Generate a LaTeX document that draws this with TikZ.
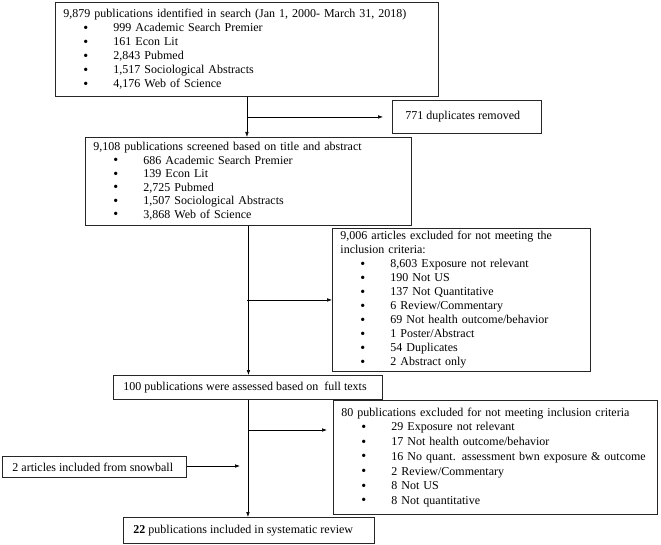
\documentclass[tikz,border=0pt]{standalone}
\usepackage{fontspec}
\setmainfont{Liberation Serif}
\usetikzlibrary{arrows.meta}

\newcommand{\itm}[1]{\hspace*{20pt}\makebox[30pt][l]{\raisebox{-0.5pt}{\fontsize{14}{14}\selectfont\textbullet}}#1}
\newcommand{\oneline}[2]{\makebox[#1][l]{#2}}

\tikzset{
	box/.style={draw=black!85, line width=0.9pt, anchor=north west, inner xsep=8pt, inner ysep=2pt, align=left, font=\fontsize{12}{14}\selectfont},
	link/.style={line width=0.6pt},
	arr/.style={link, -{Latex[length=5pt,width=3.6pt]}}
}

\begin{document}
\begin{tikzpicture}[x=1pt, y=-1pt]
	\useasboundingbox (0,0) rectangle (661,545);

	%boxes
	\node [box, text width=367pt, minimum height=94pt] (search) at (55,2) {
		9,879 publications identified in search (Jan 1, 2000- March 31, 2018)\\
		\itm{999 Academic Search Premier}\\
		\itm{161 Econ Lit}\\
		\itm{2,843 Pubmed}\\
		\itm{1,517 Sociological Abstracts}\\
		\itm{4,176 Web of Science}};
	\node [box, inner xsep=13pt, minimum height=33pt] (dup) at (392,100) {\oneline{123pt}{771 duplicates removed}};
	\node [box, font=\fontsize{12}{13.5}\selectfont, text width=310pt, minimum height=88pt] (screen) at (85,137) {
		9,108 publications screened based on title and abstract\\
		\itm{686 Academic Search Premier}\\
		\itm{139 Econ Lit}\\
		\itm{2,725 Pubmed}\\
		\itm{1,507 Sociological Abstracts}\\
		\itm{3,868 Web of Science}};
	\node [box, text width=242pt, minimum height=143pt] (excla) at (332,228) {
		9,006 articles excluded for not meeting the\\
		inclusion criteria:\\
		\itm{8,603 Exposure not relevant}\\
		\itm{190 Not US}\\
		\itm{137 Not Quantitative}\\
		\itm{6 Review/Commentary}\\
		\itm{69 Not health outcome/behavior}\\
		\itm{1 Poster/Abstract}\\
		\itm{54 Duplicates}\\
		\itm{2 Abstract only}};
	\node [box, inner xsep=10pt, minimum height=24pt] (full) at (113,375) {\oneline{249pt}{100 publications were assessed based on \ full texts}};
	\node [box, font=\fontsize{12}{14.7}\selectfont, text width=308pt, minimum height=114pt] (exclb) at (333,400) {
		80 publications excluded for not meeting inclusion criteria\\
		\itm{29 Exposure not relevant}\\
		\itm{17 Not health outcome/behavior}\\
		\itm{16 No quant. assessment bwn exposure \& outcome}\\
		\itm{2 Review/Commentary}\\
		\itm{8 Not US}\\
		\itm{8 Not quantitative}};
	\node [box, inner xsep=10pt, minimum height=21pt] (snow) at (2,456) {\oneline{164pt}{2 articles included from snowball}};
	\node [box, inner xsep=10pt, minimum height=26pt] (incl) at (123,517) {\oneline{231pt}{\raisebox{-3pt}{\textbf{22} publications included in systematic review}}};

	%joints
	\coordinate (j1) at (search.south |- dup.west);
	\coordinate (j2) at (search.south |- excla.west);
	\coordinate (j3) at (248,430);
	\coordinate (j4) at (240,466);

	%paths
	\draw [arr] (search.south) -- (search.south |- screen.north);
	\draw [arr, shorten >=9pt] (j1) -- (dup.west);
	\draw [arr] (screen.south) -- (screen.south |- full.north);
	\draw [arr] (j2) -- (excla.west);
	\draw [arr] (full.south) -- (full.south |- incl.north);
	\draw [arr, shorten >=6pt] (j3) -- (j3 -| exclb.west);
	\draw [arr] (snow.east |- j4) -- (j4);

\end{tikzpicture}
\end{document}
